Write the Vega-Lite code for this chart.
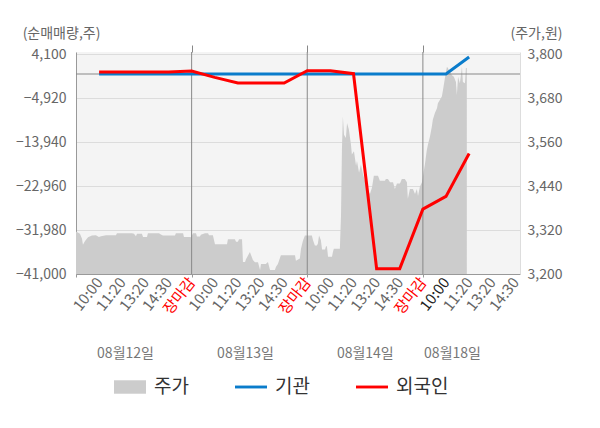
{
  "$schema": "https://vega.github.io/schema/vega-lite/v6.json",
  "width": 444,
  "height": 222,
  "autosize": {"type": "none"},
  "padding": {"left": 76, "top": 52, "right": 80, "bottom": 154},
  "config": {
    "font": "Noto Sans CJK KR",
    "view": {"fill": "#f4f4f4", "stroke": null},
    "axis": {"labelFont": "Noto Sans CJK KR", "titleFont": "Noto Sans CJK KR"}
  },
  "datasets": {
    "price": [
      {"s": 0, "p": 3316}, {"s": 0.17, "p": 3310}, {"s": 0.26, "p": 3296}, {"s": 0.30, "p": 3280},
      {"s": 0.39, "p": 3290}, {"s": 0.52, "p": 3300}, {"s": 0.69, "p": 3305}, {"s": 0.86, "p": 3306},
      {"s": 0.99, "p": 3301}, {"s": 1.08, "p": 3303}, {"s": 1.30, "p": 3306}, {"s": 1.73, "p": 3306},
      {"s": 1.77, "p": 3311}, {"s": 2.42, "p": 3311}, {"s": 2.51, "p": 3310}, {"s": 2.59, "p": 3303},
      {"s": 2.64, "p": 3310}, {"s": 2.85, "p": 3310}, {"s": 2.90, "p": 3301}, {"s": 3.07, "p": 3301},
      {"s": 3.11, "p": 3311}, {"s": 3.59, "p": 3311}, {"s": 3.67, "p": 3308}, {"s": 3.76, "p": 3305},
      {"s": 4.28, "p": 3305}, {"s": 4.32, "p": 3311}, {"s": 4.63, "p": 3311}, {"s": 4.67, "p": 3301},
      {"s": 4.93, "p": 3301}, {"s": 4.97, "p": 3300}, {"s": 5.06, "p": 3311}, {"s": 5.19, "p": 3311},
      {"s": 5.23, "p": 3302}, {"s": 5.36, "p": 3302}, {"s": 5.40, "p": 3307}, {"s": 5.58, "p": 3311},
      {"s": 5.71, "p": 3311}, {"s": 5.75, "p": 3306}, {"s": 5.92, "p": 3306}, {"s": 6.01, "p": 3281},
      {"s": 6.53, "p": 3281}, {"s": 6.57, "p": 3295}, {"s": 6.87, "p": 3295}, {"s": 6.92, "p": 3288},
      {"s": 7.00, "p": 3288}, {"s": 7.05, "p": 3295}, {"s": 7.18, "p": 3295}, {"s": 7.22, "p": 3233},
      {"s": 7.31, "p": 3233}, {"s": 7.35, "p": 3240}, {"s": 7.52, "p": 3260}, {"s": 7.65, "p": 3238},
      {"s": 7.74, "p": 3232}, {"s": 7.87, "p": 3232}, {"s": 7.96, "p": 3211}, {"s": 8.00, "p": 3227},
      {"s": 8.21, "p": 3227}, {"s": 8.30, "p": 3233}, {"s": 8.39, "p": 3211}, {"s": 8.60, "p": 3211},
      {"s": 8.65, "p": 3220}, {"s": 8.73, "p": 3227}, {"s": 8.86, "p": 3251}, {"s": 9.47, "p": 3251},
      {"s": 9.51, "p": 3236}, {"s": 9.68, "p": 3242}, {"s": 9.73, "p": 3269}, {"s": 9.81, "p": 3290},
      {"s": 9.90, "p": 3305}, {"s": 10.20, "p": 3305}, {"s": 10.25, "p": 3292}, {"s": 10.33, "p": 3278},
      {"s": 10.42, "p": 3278}, {"s": 10.46, "p": 3283}, {"s": 10.51, "p": 3305}, {"s": 10.59, "p": 3292},
      {"s": 10.64, "p": 3267}, {"s": 10.77, "p": 3267}, {"s": 10.81, "p": 3276}, {"s": 10.85, "p": 3276},
      {"s": 10.90, "p": 3247}, {"s": 11.07, "p": 3247}, {"s": 11.11, "p": 3260}, {"s": 11.15, "p": 3269},
      {"s": 11.41, "p": 3269}, {"s": 11.46, "p": 3359}, {"s": 11.50, "p": 3540}, {"s": 11.54, "p": 3630},
      {"s": 11.59, "p": 3580}, {"s": 11.67, "p": 3571}, {"s": 11.72, "p": 3612}, {"s": 11.80, "p": 3594},
      {"s": 11.89, "p": 3553}, {"s": 11.93, "p": 3526}, {"s": 12.02, "p": 3535}, {"s": 12.11, "p": 3495},
      {"s": 12.15, "p": 3508}, {"s": 12.24, "p": 3476}, {"s": 12.32, "p": 3499}, {"s": 12.41, "p": 3472},
      {"s": 12.58, "p": 3436}, {"s": 12.71, "p": 3418}, {"s": 12.80, "p": 3436}, {"s": 12.88, "p": 3468},
      {"s": 13.06, "p": 3468}, {"s": 13.14, "p": 3454}, {"s": 13.36, "p": 3454}, {"s": 13.40, "p": 3459},
      {"s": 13.49, "p": 3459}, {"s": 13.58, "p": 3450}, {"s": 13.71, "p": 3450}, {"s": 13.79, "p": 3432},
      {"s": 13.88, "p": 3447}, {"s": 14.01, "p": 3447}, {"s": 14.09, "p": 3459}, {"s": 14.22, "p": 3459},
      {"s": 14.31, "p": 3450}, {"s": 14.35, "p": 3405}, {"s": 14.44, "p": 3432}, {"s": 14.57, "p": 3432},
      {"s": 14.66, "p": 3418}, {"s": 14.74, "p": 3432}, {"s": 14.79, "p": 3413}, {"s": 14.87, "p": 3438},
      {"s": 14.96, "p": 3450}, {"s": 15.00, "p": 3465}, {"s": 15.09, "p": 3500}, {"s": 15.17, "p": 3538},
      {"s": 15.22, "p": 3553}, {"s": 15.31, "p": 3576}, {"s": 15.39, "p": 3603}, {"s": 15.43, "p": 3621},
      {"s": 15.52, "p": 3639}, {"s": 15.61, "p": 3652}, {"s": 15.65, "p": 3666}, {"s": 15.74, "p": 3675},
      {"s": 15.82, "p": 3684}, {"s": 15.87, "p": 3702}, {"s": 15.95, "p": 3733}, {"s": 16.04, "p": 3765},
      {"s": 16.08, "p": 3762}, {"s": 16.17, "p": 3751}, {"s": 16.26, "p": 3742}, {"s": 16.34, "p": 3738},
      {"s": 16.43, "p": 3724}, {"s": 16.47, "p": 3688}, {"s": 16.52, "p": 3738}, {"s": 16.60, "p": 3720},
      {"s": 16.69, "p": 3765}, {"s": 16.73, "p": 3724}, {"s": 16.82, "p": 3720}, {"s": 16.86, "p": 3762},
      {"s": 16.90, "p": 3762}
    ],
    "flow": [
      {"who": "기관", "s": 1, "v": 0}, {"who": "기관", "s": 2, "v": 0}, {"who": "기관", "s": 3, "v": 0},
      {"who": "기관", "s": 4, "v": 0}, {"who": "기관", "s": 5, "v": 0}, {"who": "기관", "s": 6, "v": 0},
      {"who": "기관", "s": 7, "v": 0}, {"who": "기관", "s": 8, "v": 0}, {"who": "기관", "s": 9, "v": 0},
      {"who": "기관", "s": 10, "v": 0}, {"who": "기관", "s": 11, "v": 0}, {"who": "기관", "s": 12, "v": 0},
      {"who": "기관", "s": 13, "v": 0}, {"who": "기관", "s": 14, "v": 0}, {"who": "기관", "s": 15, "v": 0},
      {"who": "기관", "s": 16, "v": 0}, {"who": "기관", "s": 17, "v": 3500},
      {"who": "외국인", "s": 1, "v": 400}, {"who": "외국인", "s": 2, "v": 400}, {"who": "외국인", "s": 3, "v": 400},
      {"who": "외국인", "s": 4, "v": 400}, {"who": "외국인", "s": 5, "v": 600}, {"who": "외국인", "s": 6, "v": -700},
      {"who": "외국인", "s": 7, "v": -1850}, {"who": "외국인", "s": 8, "v": -1850}, {"who": "외국인", "s": 9, "v": -1850},
      {"who": "외국인", "s": 10, "v": 680}, {"who": "외국인", "s": 11, "v": 680}, {"who": "외국인", "s": 12, "v": 60},
      {"who": "외국인", "s": 13, "v": -39900}, {"who": "외국인", "s": 14, "v": -39900}, {"who": "외국인", "s": 15, "v": -27700},
      {"who": "외국인", "s": 16, "v": -25100}, {"who": "외국인", "s": 17, "v": -16300}
    ],
    "days": [{"s": 5}, {"s": 10}, {"s": 15}],
    "zero": [{"v": 0}]
  },
  "layer": [
    {
      "data": {"name": "price"},
      "mark": {"type": "area", "color": "#cccccc", "clip": true},
      "encoding": {
        "x": {
          "field": "s", "type": "quantitative",
          "scale": {"domain": [0, 19.2], "nice": false, "zero": false},
          "axis": {
            "orient": "bottom", "title": null, "grid": false,
            "values": [0, 1, 2, 3, 4, 5, 6, 7, 8, 9, 10, 11, 12, 13, 14, 15, 16, 17, 18, 19],
            "labelExpr": "datum.value == 0 ? '' : datum.value % 5 == 0 ? '장마감' : ['', '10:00', '11:20', '13:20', '14:30'][datum.value % 5]",
            "labelAngle": -52, "labelFontSize": 15, "labelPadding": 2,
            "labelColor": {"condition": [{"test": "datum.value % 5 == 0", "value": "#ff0000"}, {"test": "datum.value == 16", "value": "#222222"}], "value": "#666666"},
            "labelOverlap": false, "labelFlush": false, "labelBound": false,
            "domainColor": "#999999", "tickColor": "#999999", "tickSize": 3,
            "tickOpacity": {"condition": {"test": "datum.value % 5 == 0", "value": 1}, "value": 0}
          }
        },
        "y": {
          "field": "p", "type": "quantitative",
          "scale": {"domain": [3200, 3805.5], "nice": false, "zero": false},
          "axis": {
            "orient": "right", "values": [3200, 3320, 3440, 3560, 3680, 3800], "format": ",d",
            "grid": false, "ticks": false, "domainColor": "#dddddd",
            "labelFontSize": 14, "labelColor": "#666666", "labelPadding": 7,
            "title": "(주가,원)", "titleAngle": 0, "titleAlign": "center", "titleBaseline": "middle",
            "titleX": 16, "titleY": -19, "titleFontSize": 14, "titleFontWeight": "normal", "titleColor": "#666666"
          }
        },
        "color": {
          "datum": "주가", "type": "nominal",
          "scale": {"domain": ["주가", "기관", "외국인"], "range": ["#cccccc", "#0a7ccb", "#ff0000"]},
          "legend": {
            "orient": "none", "legendX": 38, "legendY": 319, "direction": "horizontal", "title": null,
            "labelFontSize": 19, "labelColor": "#333333", "labelOffset": 8, "columnPadding": 46,
            "symbolSize": 1024,
            "encode": {
              "symbols": {
                "update": {
                  "shape": {"signal": "datum.value == '주가' ? 'M-1,-0.42H1V0.42H-1Z' : 'M-1,-0.09H1V0.09H-1Z'"},
                  "fill": {"signal": "scale('color', datum.value)"},
                  "stroke": {"value": "transparent"},
                  "strokeWidth": {"value": 0},
                  "opacity": {"value": 1}
                }
              }
            }
          }
        }
      }
    },
    {
      "layer": [
        {
          "data": {"name": "zero"},
          "mark": {"type": "rule", "color": "#888888", "strokeWidth": 1},
          "encoding": {
            "y": {
              "field": "v", "type": "quantitative",
              "scale": {"domain": [-41000, 4510], "nice": false, "zero": false},
              "axis": {
                "orient": "left", "values": [-41000, -31980, -22960, -13940, -4920, 4100], "format": ",d",
                "grid": true, "gridColor": "#dcdcdc", "ticks": false, "domainColor": "#999999",
                "labelFontSize": 14, "labelColor": "#666666", "labelPadding": 10,
                "title": "(순매매량,주)", "titleAngle": 0, "titleAlign": "center", "titleBaseline": "middle",
                "titleX": -15, "titleY": -19, "titleFontSize": 14, "titleFontWeight": "normal", "titleColor": "#666666"
              }
            }
          }
        },
        {
          "data": {"name": "days"},
          "mark": {"type": "rule", "color": "#888888", "strokeWidth": 1},
          "encoding": {
            "x": {
              "field": "s", "type": "quantitative",
              "axis": {
                "orient": "top", "values": [5, 10, 15], "labels": false, "domain": false, "grid": false,
                "ticks": true, "tickSize": 7, "tickColor": "#888888", "title": null
              }
            }
          }
        },
        {
          "data": {"name": "flow"},
          "mark": {"type": "line", "strokeWidth": 3, "clip": true},
          "encoding": {
            "x": {
              "field": "s", "type": "quantitative",
              "axis": {
                "orient": "bottom", "offset": 72, "values": [2.12, 7.31, 12.49, 16.26],
                "labelExpr": "datum.value < 5 ? '08월12일' : datum.value < 10 ? '08월13일' : datum.value < 15 ? '08월14일' : '08월18일'",
                "labelAngle": 0, "labelFontSize": 14, "labelColor": "#777777", "labelPadding": 0,
                "labelOverlap": false, "labelFlush": false, "labelBound": false,
                "domain": false, "ticks": false, "grid": false, "title": null
              }
            },
            "y": {"field": "v", "type": "quantitative"},
            "color": {"field": "who", "type": "nominal", "legend": {"title": null}}
          }
        }
      ],
      "resolve": {"axis": {"x": "independent"}}
    }
  ],
  "resolve": {"scale": {"y": "independent"}, "axis": {"x": "independent"}}
}
